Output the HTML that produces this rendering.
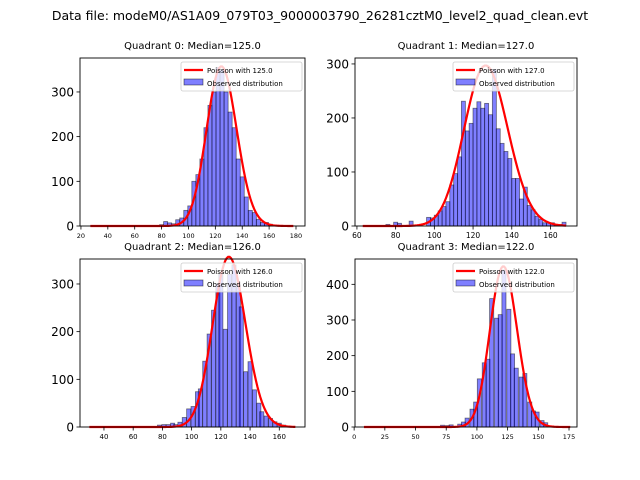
<!DOCTYPE html>
<html><head><meta charset="utf-8"><style>
body{margin:0;background:#fff}
svg{display:block;font-family:"DejaVu Sans","Liberation Sans",sans-serif}
</style></head><body>
<svg id="fig" width="640" height="480" xmlns="http://www.w3.org/2000/svg">
<rect width="640" height="480" fill="#fff"/>
<text x="320" y="20" text-anchor="middle" font-size="12.5">Data file: modeM0/AS1A09_079T03_9000003790_26281cztM0_level2_quad_clean.evt</text>
</svg>
<script>
// Quadrant 0
const q0Centers=[80,83,86,89,92,95,98,101,104,107,110,113,116,119,122,125,128,131,134,137,140,143,146,149,152,155,158,161,164];
const q0Counts=[3,10,7,5,14,18,35,45,100,115,150,220,270,300,355,350,300,255,220,150,110,65,35,30,15,8,8,4,2];
// Quadrant 1
const q1Centers=[76,80,82,88,97,99,101,103,105,107,109,111,113,115,117,119,121,123,125,127,129,131,133,135,137,139,141,143,145,147,149,151,153,155,157,159,161,163,165,167];
const q1Counts=[3,7,5,9,16,15,20,28,36,45,76,97,128,231,176,190,218,230,218,227,206,290,180,153,138,125,88,88,50,72,38,30,18,12,6,6,6,3,3,7];
// Quadrant 2
const q2Centers=[78,81,84,87,89,92,95,98,101,104,106,109,112,115,118,120,123,126,129,132,134,137,140,143,146,148,151,154,157,160,163];
const q2Counts=[4,5,5,8,5,10,20,38,43,74,80,138,195,245,300,320,205,320,340,298,252,116,137,78,50,32,23,18,11,8,4];
// Quadrant 3
const q3Centers=[72,76,79,86,89,92,96,99,102,106,109,112,116,119,122,126,129,132,136,139,143,146,149,153,156,159];
const q3Counts=[5,4,6,8,14,25,50,70,135,180,190,360,305,315,440,330,205,165,140,150,70,45,42,18,12,3];
// Poisson models
const lambdas=[125,127,126,122];
const curvePeaks=[357,297,357,450];
const curveStart=[27,63,30,8];
const curveEnd=[178,168,171,176];
const binWidths=[3.02,2.07,2.82,3.36];
// tick labels
const q0XTicks=[20,40,60,80,100,120,140,160,180];
const q1XTicks=[60,80,100,120,140,160];
const q2XTicks=[40,60,80,100,120,140,160];
const q3XTicks=[0,25,50,75,100,125,150,175];
const q0YTicks=[0,100,200,300];
const q1YTicks=[0,100,200,300];
const q2YTicks=[0,100,200,300];
const q3YTicks=[0,100,200,300,400];

const NS="http://www.w3.org/2000/svg";
const fig=document.getElementById('fig');
function mk(tag,attrs,parent){const e=document.createElementNS(NS,tag);for(const k in attrs)e.setAttribute(k,attrs[k]);(parent||fig).appendChild(e);return e;}
function lfact(k){let s=0;for(let i=2;i<=k;i++)s+=Math.log(i);return s;}
function logpmf(k,l){return k*Math.log(l)-l-lfact(k);}

const panels=[
 {i:0,L:80,R:305,T:58,B:226,xmin:19.3,xmax:186.7,ymax:376,xfs:6.5,cx:q0Centers,cy:q0Counts,xt:q0XTicks,yt:q0YTicks,title:"Quadrant 0: Median=125.0"},
 {i:1,L:355,R:577,T:58,B:226,xmin:59,xmax:173.7,ymax:311,xfs:7.5,cx:q1Centers,cy:q1Counts,xt:q1XTicks,yt:q1YTicks,title:"Quadrant 1: Median=127.0"},
 {i:2,L:80,R:305,T:259,B:427,xmin:23.6,xmax:177.6,ymax:352.4,xfs:7,cx:q2Centers,cy:q2Counts,xt:q2XTicks,yt:q2YTicks,title:"Quadrant 2: Median=126.0"},
 {i:3,L:355,R:577,T:259,B:427,xmin:0.7,xmax:181.5,ymax:471,xfs:6.5,cx:q3Centers,cy:q3Counts,xt:q3XTicks,yt:q3YTicks,title:"Quadrant 3: Median=122.0"}
];

panels.forEach(p=>{
  const g=mk('g',{});
  
  
  const sx=v=>p.L+(v-p.xmin)/(p.xmax-p.xmin)*(p.R-p.L);
  const sy=v=>p.B-v/p.ymax*(p.B-p.T);
  const t=mk('text',{x:(p.L+p.R)/2,y:p.T-9,'text-anchor':'middle','font-size':'10'},g);
  t.textContent=p.title;
  
  
  const bw=binWidths[p.i];
  p.cx.forEach((c,j)=>{
    const r=mk('rect',{x:sx(c-bw/2),y:sy(p.cy[j]),width:sx(c+bw/2)-sx(c-bw/2),height:sy(0)-sy(p.cy[j]),fill:'rgba(0,0,255,0.5)',stroke:'rgba(0,0,0,0.5)','stroke-width':'0.8'},g);
    
    
  });
  const lam=lambdas[p.i];const mode=Math.floor(lam);
  const sc=curvePeaks[p.i]/Math.exp(logpmf(mode,lam));
  let d='';
  for(let k=curveStart[p.i];k<=curveEnd[p.i];k++){
    const v=sc*Math.exp(logpmf(k,lam));
    d+=(d?'L':'M')+sx(k).toFixed(2)+','+sy(v).toFixed(2);
  }
  const cu=mk('path',{d:d,fill:'none',stroke:'#ff0000','stroke-width':'2.2'},g);
  
  
  const ax=mk('rect',{x:p.L,y:p.T,width:p.R-p.L,height:p.B-p.T,fill:'none',stroke:'#000','stroke-width':'0.9'},g);
  
  
  p.xt.forEach(v=>{
    const x=sx(v);
    mk('line',{x1:x,x2:x,y1:p.B,y2:p.B+3.5,stroke:'#000','stroke-width':'0.8'},g);
    const tt=mk('text',{x:x,y:p.B+12,'text-anchor':'middle','font-size':p.xfs},g);
    tt.textContent=v;
    
    
  });
  p.yt.forEach(v=>{
    const y=sy(v);
    mk('line',{x1:p.L-3.5,x2:p.L,y1:y,y2:y,stroke:'#000','stroke-width':'0.8'},g);
    const tt=mk('text',{x:p.L-6,y:y+4.5,'text-anchor':'end','font-size':'12'},g);
    tt.textContent=v;
    
    
  });
  const lg=mk('g',{},g);
  
  
  const lx=p.R-124,ly=p.T+4;
  mk('rect',{x:lx,y:ly,width:121,height:29,fill:'rgba(255,255,255,0.8)',stroke:'#ccc','stroke-width':'0.8',rx:2},lg);
  mk('line',{x1:lx+3,x2:lx+22,y1:ly+8,y2:ly+8,stroke:'#ff0000','stroke-width':'2.2'},lg);
  const l1=mk('text',{x:lx+26,y:ly+11,'font-size':'7'},lg);l1.textContent='Poisson with '+lam.toFixed(1);
  
  
  mk('rect',{x:lx+3,y:ly+17,width:19,height:6,fill:'rgba(0,0,255,0.5)',stroke:'rgba(0,0,0,0.6)','stroke-width':'0.7'},lg);
  const l2=mk('text',{x:lx+26,y:ly+24,'font-size':'7'},lg);l2.textContent='Observed distribution';
  
  
});
</script>
</body></html>
